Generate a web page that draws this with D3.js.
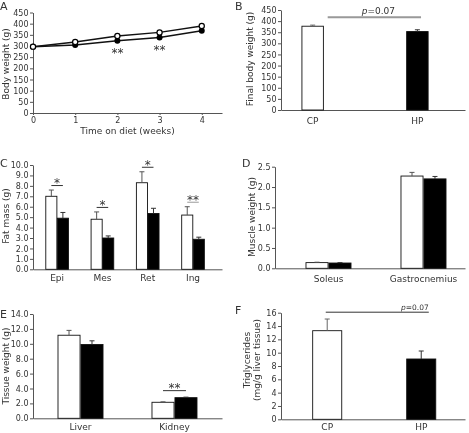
<!DOCTYPE html>
<html><head><meta charset="utf-8">
<script src="https://cdn.jsdelivr.net/npm/d3@7"></script>
<style>
body{margin:0;background:#fff}
svg{display:block;will-change:transform}
text{font-family:"DejaVu Sans",Verdana,sans-serif;fill:#333}
</style></head>
<body><svg id="c" width="469" height="433"></svg>
<script>
// ---------- data ----------
const weeks = [0, 1, 2, 3, 4];
const bodyWeightCP = [297, 318, 345, 361, 390];
const bodyWeightHP = [297, 304, 323, 338, 368];
const bodyWeightSig = ["", "", "**", "**", ""];
const weekTicks = [0, 1, 2, 3, 4];

const diets = ["CP", "HP"];
const finalBW = [377, 353];
const finalBWErr = [5, 8];
const finalBWP = "0.07";

const fatDepots = ["Epi", "Mes", "Ret", "Ing"];
const fatCP = [7.0, 4.8, 8.3, 5.2];
const fatCPErr = [0.6, 0.7, 1.05, 0.8];
const fatHP = [4.9, 3.0, 5.35, 2.88];
const fatHPErr = [0.55, 0.2, 0.5, 0.2];
const fatSig = ["*", "*", "*", "**"];

const muscles = ["Soleus", "Gastrocnemius"];
const muscleCP = [0.14, 2.27];
const muscleCPErr = [0.01, 0.09];
const muscleHP = [0.13, 2.2];
const muscleHPErr = [0.01, 0.06];

const tissues = ["Liver", "Kidney"];
const tissueCP = [11.15, 2.15];
const tissueCPErr = [0.65, 0.06];
const tissueHP = [9.9, 2.77];
const tissueHPErr = [0.5, 0.07];
const tissueSig = ["", "**"];

const liverTG = [13.3, 9.05];
const liverTGErr = [1.75, 1.2];
const liverTGP = "0.07";

// ---------- helpers ----------
const svg = d3.select("#c");
const AX = "#555", DARK = "#222";

function yAxis(g, y, x0, ticks, fmt) {
  const a = g.append("g").attr("transform", `translate(${x0},0)`)
    .call(d3.axisLeft(y).tickValues(ticks).tickFormat(fmt).tickSize(3).tickPadding(1.5).tickSizeOuter(0));
  a.selectAll("path,line").attr("stroke", AX);
  a.selectAll("text").attr("font-size", 8).attr("fill", "#333").style("font-family", "DejaVu Sans");
  return a;
}
function xBandAxis(g, x, y0, pad) {
  const a = g.append("g").attr("transform", `translate(0,${y0})`)
    .call(d3.axisBottom(x).tickSize(0).tickSizeOuter(0).tickPadding(pad));
  a.selectAll("path").attr("stroke", AX);
  a.selectAll("text").attr("font-size", 9).attr("fill", "#333").style("font-family", "DejaVu Sans");
  return a;
}
function yTitle(lines, x, yc) {
  lines.forEach((t, i) => {
    svg.append("text").attr("transform", `translate(${x + i * 10},${yc}) rotate(-90)`)
      .attr("text-anchor", "middle").attr("font-size", 9).text(t);
  });
}
function letter(t, x, y) {
  svg.append("text").attr("x", x).attr("y", y).attr("font-size", 11).attr("fill", DARK).text(t);
}
function errBar(g, cx, yTop, yErr, cap, color) {
  g.append("line").attr("x1", cx).attr("x2", cx).attr("y1", yTop).attr("y2", yErr).attr("stroke", color).attr("stroke-width", 1);
  g.append("line").attr("x1", cx - cap / 2).attr("x2", cx + cap / 2).attr("y1", yErr).attr("y2", yErr).attr("stroke", color).attr("stroke-width", 1);
}

// grouped (CP open / HP filled) bar panel
function groupedPanel(o) {
  const g = svg.append("g");
  const y = d3.scaleLinear().domain([0, o.ymax]).range([o.bottom, o.top]);
  const x = d3.scaleBand().domain(o.cats).range([o.x0, o.x1])
    .paddingInner(o.pi).paddingOuter(o.po).align(o.align);
  const xi = d3.scaleBand().domain([0, 1]).range([0, x.bandwidth()]).paddingInner(0.04);
  yAxis(g, y, o.x0, d3.range(0, o.ymax + 1e-9, o.step), o.fmt);
  xBandAxis(g, x, o.bottom, o.labPad);
  const sets = [{v: o.cp, e: o.cpErr, fill: "#fff"}, {v: o.hp, e: o.hpErr, fill: "#000"}];
  sets.forEach((s, si) => {
    o.cats.forEach((c, i) => {
      const bx = x(c) + xi(si);
      g.append("rect").attr("x", bx).attr("y", y(s.v[i])).attr("width", xi.bandwidth())
        .attr("height", y(0) - y(s.v[i])).attr("fill", s.fill).attr("stroke", "#111").attr("stroke-width", 0.9);
      errBar(g, bx + xi.bandwidth() / 2, y(s.v[i]), y(s.v[i] + s.e[i]), 5, si === 0 ? "#555" : "#333");
    });
  });
  if (o.sig) {
    o.cats.forEach((c, i) => {
      if (!o.sig[i]) return;
      const top = Math.max(o.cp[i] + o.cpErr[i], o.hp[i] + o.hpErr[i]);
      const ly = y(top) - o.sigGap;
      const xa = x(c) + xi(0) + xi.bandwidth() / 2, xb = x(c) + xi(1) + xi.bandwidth() / 2;
      g.append("line").attr("x1", xa).attr("x2", xb).attr("y1", ly).attr("y2", ly)
        .attr("stroke", (o.sigColors && o.sigColors[i]) || "#333").attr("stroke-width", 1);
      g.append("text").attr("x", (xa + xb) / 2).attr("y", ly + 1.5).attr("text-anchor", "middle")
        .attr("font-size", 12).attr("fill", DARK).text(o.sig[i]);
    });
  }
  return {x, y};
}

// two-bar panel (CP open, HP filled)
function pairPanel(o) {
  const g = svg.append("g");
  const y = d3.scaleLinear().domain([0, o.ymax]).range([o.bottom, o.top]);
  const x = d3.scaleBand().domain(diets).range([o.x0, o.x1])
    .paddingInner(o.pi).paddingOuter(o.po).align(o.align);
  yAxis(g, y, o.x0, d3.range(0, o.ymax + 1e-9, o.step), o.fmt);
  xBandAxis(g, x, o.bottom, o.labPad);
  diets.forEach((c, i) => {
    g.append("rect").attr("x", x(c)).attr("y", y(o.v[i])).attr("width", x.bandwidth())
      .attr("height", y(0) - y(o.v[i])).attr("fill", i === 0 ? "#fff" : "#000")
      .attr("stroke", "#111").attr("stroke-width", 0.9);
    errBar(g, x(c) + x.bandwidth() / 2, y(o.v[i]), y(o.v[i] + o.e[i]), 5, i === 0 ? "#666" : "#333");
  });
  return {g, x, y};
}

// ---------- Panel A ----------
(function () {
  const g = svg.append("g");
  const x = d3.scaleLinear().domain([0, 4.48]).range([33, 222]);
  const y = d3.scaleLinear().domain([0, 450]).range([113, 12.5]);
  yAxis(g, y, 33, d3.range(0, 451, 50), d3.format("d"));
  const xa = g.append("g").attr("transform", "translate(0,113)")
    .call(d3.axisBottom(x).tickValues(weekTicks).tickFormat(d3.format("d")).tickSize(2).tickPadding(2).tickSizeOuter(0));
  xa.selectAll("path,line").attr("stroke", AX);
  xa.selectAll("text").attr("font-size", 8).attr("fill", "#333").style("font-family", "DejaVu Sans");
  const line = d3.line().x((d, i) => x(weeks[i])).y(d => y(d));
  g.append("path").datum(bodyWeightHP).attr("d", line).attr("fill", "none").attr("stroke", "#111").attr("stroke-width", 1.5);
  g.append("path").datum(bodyWeightCP).attr("d", line).attr("fill", "none").attr("stroke", "#111").attr("stroke-width", 1.5);
  weeks.forEach((w, i) => {
    g.append("circle").attr("cx", x(w)).attr("cy", y(bodyWeightHP[i])).attr("r", 3).attr("fill", "#000");
  });
  weeks.forEach((w, i) => {
    g.append("circle").attr("cx", x(w)).attr("cy", y(bodyWeightCP[i])).attr("r", 2.6)
      .attr("fill", "#fff").attr("stroke", "#000").attr("stroke-width", 1.2);
    if (bodyWeightSig[i]) g.append("text").attr("x", x(w)).attr("y", y(bodyWeightHP[i]) + 16)
      .attr("text-anchor", "middle").attr("font-size", 12).attr("fill", DARK).text(bodyWeightSig[i]);
  });
  svg.append("text").attr("x", 127.5).attr("y", 134).attr("text-anchor", "middle").attr("font-size", 9).text("Time on diet (weeks)");
  yTitle(["Body weight (g)"], 8.6, 64);
  letter("A", 0, 9.5);
})();

// ---------- Panel B ----------
(function () {
  const p = pairPanel({x0: 281, x1: 465, bottom: 110, top: 10, ymax: 450, step: 50, fmt: d3.format("d"),
    v: finalBW, e: finalBWErr, pi: 0.795, po: 0.276, align: 0.362, labPad: 8});
  const bw = p.x.bandwidth();
  const ly = p.y(450) + 7.3;
  const xa = p.x("CP") + bw * 1.2, xb = p.x("HP") + bw * 0.67;
  p.g.append("line").attr("x1", xa).attr("x2", xb).attr("y1", ly).attr("y2", ly).attr("stroke", "#999").attr("stroke-width", 2);
  const t = p.g.append("text").attr("x", (xa + xb) / 2 + 4).attr("y", ly - 3.8).attr("text-anchor", "middle").attr("font-size", 9);
  t.append("tspan").attr("font-style", "italic").text("p");
  t.append("tspan").text("=" + finalBWP);
  yTitle(["Final body weight (g)"], 253.3, 59);
  letter("B", 235, 9.5);
})();

// ---------- Panel C ----------
groupedPanel({x0: 33, x1: 222, bottom: 269.3, top: 165, ymax: 10, step: 1, fmt: d3.format(".1f"),
  cats: fatDepots, cp: fatCP, cpErr: fatCPErr, hp: fatHP, hpErr: fatHPErr, sig: fatSig,
  sigColors: ["#333", "#333", "#333", "#999"], sigGap: 4.5,
  pi: 0.5, po: 0.336, align: 0.42, labPad: 5});
yTitle(["Fat mass (g)"], 8.6, 216);
letter("C", 0, 167);

// ---------- Panel D ----------
groupedPanel({x0: 275, x1: 465, bottom: 268.3, top: 166.7, ymax: 2.5, step: 0.5, fmt: d3.format(".1f"),
  cats: muscles, cp: muscleCP, cpErr: muscleCPErr, hp: muscleHP, hpErr: muscleHPErr,
  pi: 0.526, po: 0.263, align: 0.62, labPad: 7.5});
yTitle(["Muscle weight (g)"], 254.5, 217);
letter("D", 242, 167);

// ---------- Panel E ----------
groupedPanel({x0: 33, x1: 222, bottom: 418.3, top: 314, ymax: 14, step: 2, fmt: d3.format(".1f"),
  cats: tissues, cp: tissueCP, cpErr: tissueCPErr, hp: tissueHP, hpErr: tissueHPErr, sig: tissueSig,
  sigGap: 6.5, pi: 0.521, po: 0.266, align: 0.5, labPad: 5.5});
yTitle(["Tissue weight (g)"], 8.6, 366);
letter("E", 0, 318);

// ---------- Panel F ----------
(function () {
  const p = pairPanel({x0: 281, x1: 465, bottom: 419.3, top: 312.7, ymax: 16, step: 2, fmt: d3.format("d"),
    v: liverTG, e: liverTGErr, pi: 0.691, po: 0.324, align: 0.52, labPad: 4.5});
  const bw = p.x.bandwidth();
  const ly = p.y(16) - 0.5;
  const xa = p.x("CP") + bw * 0.45, xb = p.x("HP") + bw * 0.76;
  p.g.append("line").attr("x1", xa).attr("x2", xb).attr("y1", ly).attr("y2", ly).attr("stroke", "#333").attr("stroke-width", 1);
  const t = p.g.append("text").attr("x", xb).attr("y", ly - 2.5).attr("text-anchor", "end").attr("font-size", 7.5);
  t.append("tspan").attr("font-style", "italic").text("p");
  t.append("tspan").text("=" + liverTGP);
  yTitle(["Triglycerides", "(mg/g liver tissue)"], 249.6, 360);
  letter("F", 235, 314);
})();
</script></body></html>
